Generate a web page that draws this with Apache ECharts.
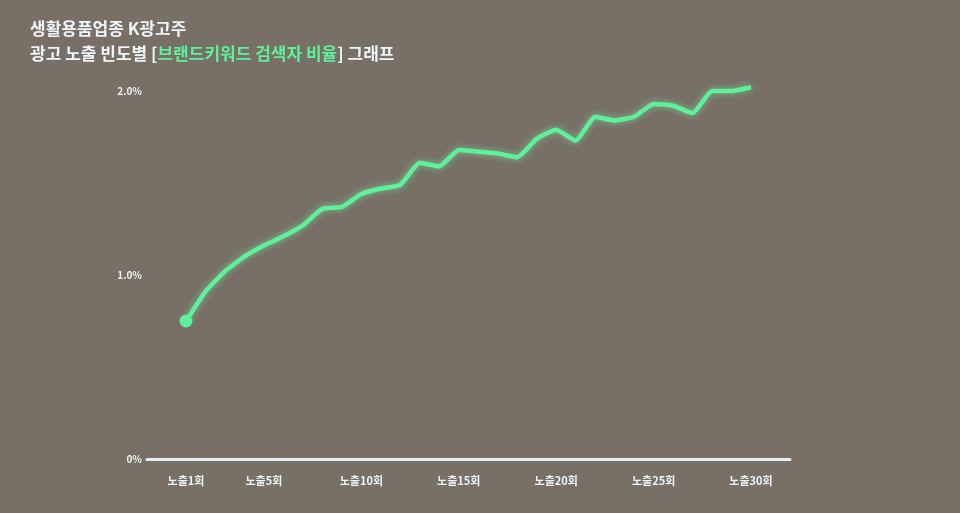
<!DOCTYPE html>
<html>
<head>
<meta charset="utf-8">
<script src="https://cdn.jsdelivr.net/npm/echarts@6/dist/echarts.min.js"></script>
<style>
html,body{margin:0;padding:0;background:#786f67;}
#c{width:960px;height:513px;}
</style>
</head>
<body>
<div id="c"></div>
<script>
// Exposure counts (노출 n회) and brand-keyword searcher ratio (%)
const exposures = [1,2,3,4,5,6,7,8,9,10,11,12,13,14,15,16,17,18,19,20,21,22,23,24,25,26,27,28,29,30];
const ratios = [0.75,0.91,1.02,1.10,1.16,1.21,1.27,1.36,1.37,1.44,1.47,1.49,1.61,1.59,1.68,1.67,1.66,1.64,1.74,1.79,1.73,1.86,1.84,1.86,1.93,1.92,1.88,2.00,2.00,2.02];
const tickPositions = [1,5,10,15,20,25,30];
const tickLabels = ['노출1회','노출5회','노출10회','노출15회','노출20회','노출25회','노출30회'];
const yTicks = [0,1,2];
const yTickLabels = ['0%','1.0%','2.0%'];

const chart = echarts.init(document.getElementById('c'));
const FONT = '"Noto Sans CJK KR", "Noto Sans", sans-serif';
const WHITE = '#eef4f7';
const GREEN = '#5ef09a';

chart.setOption({
  backgroundColor: '#786f67',
  animation: false,
  title: {
    left: 25, top: 11,
    text: '{w|생활용품업종 K광고주}\n{w|광고 노출 빈도별 [}{g|브랜드키워드 검색자 비율}{w|] 그래프}',
    textStyle: {
      fontFamily: FONT, fontSize: 17, fontWeight: 'bold', lineHeight: 25,
      rich: {
        w: {color: WHITE, fontFamily: FONT, fontSize: 17, fontWeight: 'bold', lineHeight: 25},
        g: {color: GREEN, fontFamily: FONT, fontSize: 17, fontWeight: 'bold', lineHeight: 25}
      }
    }
  },
  grid: {left: 147, right: 170, top: 91, bottom: 54},
  xAxis: {
    type: 'value', min: -1, max: 32, interval: 1,
    splitLine: {show: false},
    axisTick: {show: false},
    axisLine: {show: true, lineStyle: {color: '#e6eef2', width: 3}},
    axisLabel: {
      customValues: tickPositions,
      margin: 16,
      color: WHITE, fontFamily: FONT, fontSize: 11, fontWeight: 'bold',
      formatter: v => tickLabels[tickPositions.indexOf(v)] || ''
    }
  },
  yAxis: {
    type: 'value', min: 0, max: 2, interval: 1,
    splitLine: {show: false},
    axisLine: {show: false},
    axisTick: {show: false},
    axisLabel: {
      margin: 5,
      color: WHITE, fontFamily: FONT, fontSize: 10, fontWeight: 'bold',
      formatter: v => yTickLabels[yTicks.indexOf(v)] || ''
    }
  },
  series: [{
    type: 'line',
    data: exposures.map((e, i) => [e, ratios[i]]),
    smooth: 0.15,
    clip: false,
    symbol: 'circle',
    symbolSize: (val, p) => p.dataIndex === 0 ? 13 : 0,
    itemStyle: {color: GREEN},
    lineStyle: {color: GREEN, width: 4.5, shadowColor: 'rgba(120,255,170,0.6)', shadowBlur: 7},
    z: 5
  }]
});
</script>
</body>
</html>
